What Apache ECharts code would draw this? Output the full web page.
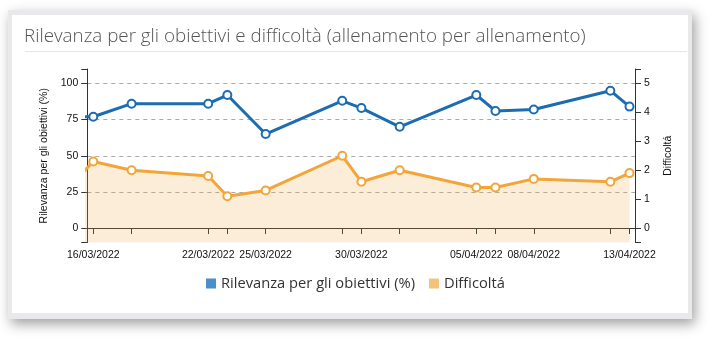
<!DOCTYPE html>
<html><head><meta charset="utf-8">
<script src="https://cdn.jsdelivr.net/npm/echarts@6/dist/echarts.min.js"></script>
<style>
html,body{margin:0;padding:0;background:#fff;width:713px;height:339px;overflow:hidden;}
#card{position:absolute;left:8px;top:10px;width:676px;height:298px;border:4px solid #e9e9eb;border-top-width:5px;border-bottom-width:6px;background:#fff;box-shadow:3px 5px 12px rgba(0,0,0,0.38);}
#chart{position:absolute;left:0;top:0;width:713px;height:339px;}
</style></head>
<body>
<div id="card"></div>
<div id="chart"></div>
<script>
// ---- data ----
const dates = ['15/03/2022','16/03/2022','18/03/2022','22/03/2022','23/03/2022','25/03/2022','29/03/2022','30/03/2022','01/04/2022','05/04/2022','06/04/2022','08/04/2022','12/04/2022','13/04/2022'];
const rilevanza = [77,77,86,86,92,65,88,83,70,92,81,82,95,84];
const difficolta = [1.6,2.3,2.0,1.8,1.1,1.3,2.5,1.6,2.0,1.4,1.4,1.7,1.6,1.9];
const xLabelDates = ['16/03/2022','22/03/2022','25/03/2022','30/03/2022','05/04/2022','08/04/2022','13/04/2022'];
const leftTicks = [0,25,50,75,100];
const rightTicks = [0,1,2,3,4,5];
const seriesNames = ['Rilevanza per gli obiettivi (%)','Difficoltá'];
const titleText = 'Rilevanza per gli obiettivi e difficoltà (allenamento per allenamento)';

// ---- helpers ----
function toTime(s){ const p=s.split('/').map(Number); return new Date(p[2],p[1]-1,p[0]).getTime(); }
function pad(n){ return (n<10?'0':'')+n; }
function fmt(v){ const d=new Date(v); return pad(d.getDate())+'/'+pad(d.getMonth()+1)+'/'+d.getFullYear(); }
const DAY = 86400000;
const xMin = toTime('16/03/2022') - 0.313*DAY;
const xMax = toTime('13/04/2022') + 0.287*DAY;
const times = dates.map(toTime);
const xTicks = [xMin].concat(times.filter(t=>t>=xMin && t<=xMax)).concat([xMax]);
const xLabels = xLabelDates.map(toTime);

const BLUE = '#1c6cb1';
const ORANGE = '#f2a63a';
const AX = '#333';
const axFont = {fontFamily:'Liberation Sans, Arial, sans-serif', fontSize:10.5, color:'#111'};

const chart = echarts.init(document.getElementById('chart'), null, {renderer:'canvas'});
chart.setOption({
  animation:false,
  title:{text:titleText,left:19,top:22,textStyle:{fontFamily:'Open Sans',fontWeight:300,fontSize:18.8,color:'#555'}},
  graphic:[{type:'line',shape:{x1:25,y1:51.5,x2:687,y2:51.5},style:{stroke:'#e6e6e6',lineWidth:1}}],
  grid:{left:87.3,right:78,top:69,bottom:96.5},
  legend:{left:201,top:271,itemWidth:10,itemHeight:10,itemGap:14,icon:'rect',
    textStyle:{fontFamily:'Open Sans',fontSize:14.7,color:'#333'},
    data:[{name:seriesNames[0],itemStyle:{color:'#4a8ecb',borderWidth:0}},{name:seriesNames[1],itemStyle:{color:'#f5c27b',borderWidth:0}}]},
  xAxis:{type:'value',min:xMin,max:xMax,scale:true,
    axisLine:{lineStyle:{color:AX,width:1}},
    axisTick:{show:true,length:6,lineStyle:{color:AX},customValues:xTicks},
    axisLabel:Object.assign({customValues:xLabels,formatter:fmt,margin:7.5,hideOverlap:false},axFont),
    splitLine:{show:false}},
  yAxis:[
    {type:'value',position:'left',min:-10,max:110,
      name:seriesNames[0],nameLocation:'middle',nameRotate:90,nameGap:35,
      nameTextStyle:axFont,
      axisLine:{show:true,lineStyle:{color:AX}},
      axisTick:{show:true,length:6,lineStyle:{color:AX},customValues:[-10].concat(leftTicks).concat([110])},
      axisLabel:Object.assign({customValues:leftTicks,margin:9},axFont),
      splitLine:{show:false}},
    {type:'value',position:'right',min:-0.5,max:5.5,
      name:'Difficoltá',nameLocation:'middle',nameRotate:90,nameGap:28,
      nameTextStyle:axFont,
      axisLine:{show:true,lineStyle:{color:AX}},
      axisTick:{show:true,length:6,lineStyle:{color:AX},customValues:[-0.5].concat(rightTicks).concat([5.5])},
      axisLabel:Object.assign({customValues:rightTicks,margin:9},axFont),
      splitLine:{show:false}},
    {type:'value',position:'left',min:-10,max:110,
      axisLine:{show:false},
      axisTick:{show:false,customValues:leftTicks},
      axisLabel:{show:false,customValues:leftTicks},
      splitLine:{show:true,lineStyle:{color:'#aaa',type:[4,4],width:1}}}
  ],
  series:[
    {name:seriesNames[1],type:'line',yAxisIndex:1,
      data:times.map((t,i)=>[t,difficolta[i]]),
      symbol:'circle',symbolSize:8,showAllSymbol:true,clip:true,
      lineStyle:{width:3,color:ORANGE},
      itemStyle:{color:'#fff',borderColor:ORANGE,borderWidth:2},
      areaStyle:{color:ORANGE,opacity:0.2,origin:'start'},
      emphasis:{disabled:true},z:2},
    {name:seriesNames[0],type:'line',yAxisIndex:0,
      data:times.map((t,i)=>[t,rilevanza[i]]),
      symbol:'circle',symbolSize:8,showAllSymbol:true,clip:true,
      lineStyle:{width:3,color:BLUE},
      itemStyle:{color:'#fff',borderColor:BLUE,borderWidth:2},
      emphasis:{disabled:true},z:3}
  ]
});
</script>
</body></html>
